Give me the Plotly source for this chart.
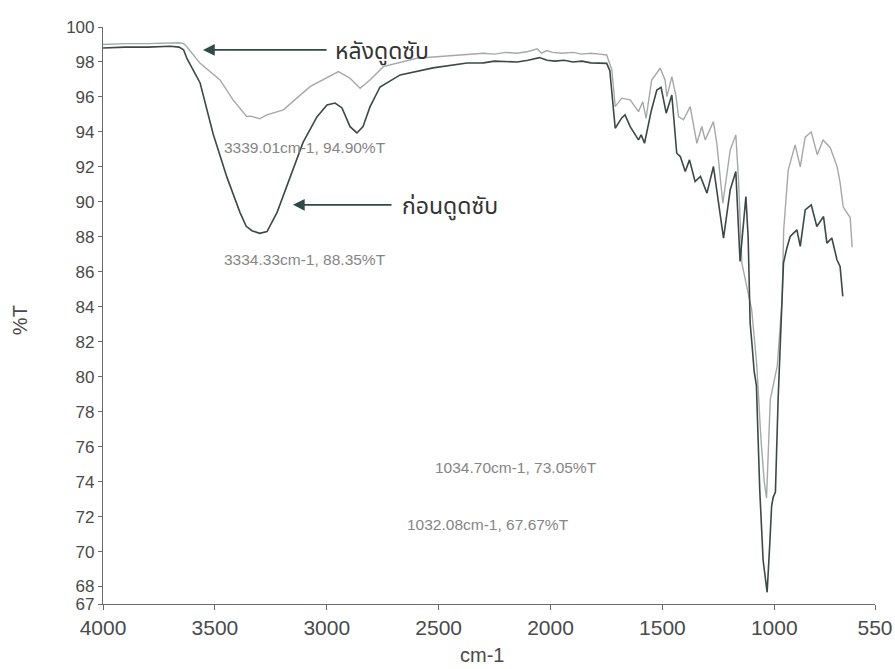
import plotly.graph_objects as go

# FTIR spectrum before adsorption (ก่อนดูดซับ)
wn_before = [4000, 3900, 3800, 3700, 3660, 3640, 3625, 3566, 3508, 3446, 3388, 3360, 3334.33,
             3300, 3267, 3222, 3164, 3106, 3044, 2999, 2963, 2932, 2896, 2865, 2838, 2807,
             2762, 2672, 2525, 2450, 2373, 2300, 2250, 2149, 2100, 2050, 2015, 1980, 1940,
             1900, 1860, 1820, 1780, 1749, 1735, 1726, 1711, 1682, 1667, 1644, 1607, 1595,
             1588, 1580, 1550, 1525, 1506, 1483, 1458, 1436, 1420, 1398, 1379, 1354, 1330,
             1301, 1272, 1250, 1227, 1197, 1172, 1153, 1127, 1117, 1108, 1100, 1090, 1080,
             1065, 1050, 1032.08, 1020, 1012, 1005, 995, 983, 967, 959, 945, 929, 899, 884,
             862, 835, 810, 780, 765, 743, 720, 706, 694]
t_before = [98.8, 98.85, 98.85, 98.9, 98.85, 98.7, 98.2, 96.8, 93.9, 91.4, 89.4, 88.6, 88.35,
            88.2, 88.3, 89.4, 91.4, 93.4, 94.86, 95.54, 95.65, 95.37, 94.3, 93.94, 94.3, 95.43,
            96.57, 97.26, 97.66, 97.8, 97.94, 97.95, 98.05, 98.0, 98.1, 98.25, 98.1, 98.05, 98.1,
            98.0, 98.05, 97.95, 97.95, 97.92, 97.5, 96.4, 94.21, 94.8, 94.97, 94.3, 93.54, 93.83,
            93.6, 93.35, 95.2, 96.4, 96.55, 95.07, 96.11, 92.78, 92.59, 91.73, 92.4, 91.16, 91.45,
            90.5, 92.02, 90.0, 87.93, 90.69, 91.73, 86.59, 90.3, 88.02, 83.07, 81.9, 80.3, 79.5,
            73.5, 69.5, 67.67, 70.5, 72.6, 73.1, 73.4, 78.7, 84.4, 86.5, 87.3, 88.02, 88.4, 87.45,
            89.54, 89.83, 88.59, 89.16, 87.64, 87.93, 86.69, 86.3, 84.59]

# FTIR spectrum after adsorption (หลังดูดซับ)
wn_after = [4000, 3900, 3800, 3700, 3660, 3640, 3626, 3566, 3477, 3419, 3358, 3339.01, 3300,
            3268, 3194, 3075, 2948, 2896, 2851, 2807, 2747, 2598, 2450, 2300, 2250, 2200, 2150,
            2100, 2060, 2040, 2017, 1990, 1950, 1900, 1860, 1820, 1780, 1749, 1726, 1711, 1682,
            1644, 1607, 1588, 1573, 1548, 1510, 1488, 1480, 1458, 1439, 1428, 1406, 1376, 1346,
            1324, 1309, 1272, 1257, 1230, 1197, 1172, 1160, 1145, 1101, 1078, 1060, 1045, 1034.70,
            1025, 1018, 1000, 987, 965, 958, 938, 907, 884, 862, 835, 808, 782, 750, 719, 706,
            692, 661, 652]
t_after = [99.0, 99.05, 99.05, 99.1, 99.1, 99.05, 98.88, 97.92, 96.97, 95.83, 94.88, 94.9, 94.75,
           94.97, 95.26, 96.59, 97.45, 97.07, 96.5, 96.97, 97.73, 98.21, 98.35, 98.5, 98.45, 98.55,
           98.5, 98.6, 98.75, 98.5, 98.65, 98.55, 98.5, 98.55, 98.45, 98.5, 98.45, 98.4, 97.54,
           95.45, 95.93, 95.83, 95.16, 95.73, 94.78, 96.97, 97.64, 96.97, 96.02, 97.16, 96.02,
           94.88, 94.69, 95.45, 93.35, 94.31, 93.54, 94.59, 93.35, 89.92, 92.97, 93.83, 91.26,
           86.5, 83.83, 80.6, 76.5, 74.0, 73.05, 76.0, 78.7, 79.8, 80.6, 84.4, 88.4, 91.8, 93.26,
           92.0, 93.7, 94.0, 92.7, 93.54, 93.1, 92.0, 91.1, 89.7, 89.1, 87.4]

x_ticks = [4000, 3500, 3000, 2500, 2000, 1500, 1000, 550]
y_ticks = [67, 68, 70, 72, 74, 76, 78, 80, 82, 84, 86, 88, 90, 92, 94, 96, 98, 100]

DARK = "#3b4947"
LIGHT = "#a4a9a7"
ARROW = "#2e4b46"
NOTE = "#858585"
SANS = "Liberation Sans, Arial, sans-serif"
THAI_FONT = dict(family="Noto Sans, Noto Sans Thai, Loma, sans-serif", size=23, color="#333333")
NOTE_FONT = dict(family=SANS, size=15.5, color=NOTE)

fig = go.Figure()
fig.add_trace(go.Scatter(x=wn_after, y=t_after, mode="lines",
                         line=dict(color=LIGHT, width=1.4), name="หลังดูดซับ"))
fig.add_trace(go.Scatter(x=wn_before, y=t_before, mode="lines",
                         line=dict(color=DARK, width=1.6), name="ก่อนดูดซับ"))

# peak labels (left edge of each text at the given wavenumber)
notes = [
    (3468, 93.1, "3339.01cm-1, 94.90%T"),
    (3468, 86.7, "3334.33cm-1, 88.35%T"),
    (2525, 74.8, "1034.70cm-1, 73.05%T"),
    (2650, 71.55, "1032.08cm-1, 67.67%T"),
]
for nx, ny, txt in notes:
    fig.add_annotation(x=nx, y=ny, text=txt, showarrow=False, font=NOTE_FONT,
                       xanchor="left", yanchor="middle")

# series arrows with their names
arrows = [
    (3553, 2994, 98.69, 2972, "หลังดูดซับ"),
    (3151, 2704, 89.83, 2672, "ก่อนดูดซับ"),
]
for head_x, tail_x, ay, tx, label in arrows:
    fig.add_annotation(x=head_x, y=ay, ax=tail_x, ay=ay, xref="x", yref="y",
                       axref="x", ayref="y", text="", showarrow=True,
                       arrowhead=2, arrowsize=1.3, arrowwidth=1.8, arrowcolor=ARROW)
    fig.add_annotation(x=tx, y=ay, text=label, showarrow=False, font=THAI_FONT,
                       xanchor="left", yanchor="middle")

# axis titles
fig.add_annotation(x=-0.1075, y=0.492, xref="paper", yref="paper", text="%T",
                   showarrow=False, textangle=-90, xanchor="center", yanchor="middle",
                   font=dict(family=SANS, size=20, color="#4a4a4a"))
fig.add_annotation(x=2306, y=-0.089, xref="x", yref="paper", text="cm-1", showarrow=False,
                   xanchor="center", yanchor="middle",
                   font=dict(family=SANS, size=20, color="#4a4a4a"))

fig.update_layout(
    width=895, height=669,
    margin=dict(l=103, r=20, t=27, b=65),
    paper_bgcolor="white", plot_bgcolor="white",
    showlegend=False,
    xaxis=dict(range=[4000, 550], tickvals=x_ticks, ticktext=[str(v) for v in x_ticks],
               showgrid=False, zeroline=False, showline=True, linecolor="#6a6a6a",
               linewidth=1.2, ticks="outside", ticklen=5, tickcolor="#6a6a6a",
               tickfont=dict(family=SANS, size=21, color="#4a4a4a"), automargin=False),
    yaxis=dict(range=[67, 100], tickvals=y_ticks, ticktext=[str(v) for v in y_ticks],
               showgrid=False, zeroline=False, showline=True, linecolor="#6a6a6a",
               linewidth=1.2, ticks="outside", ticklen=4, tickcolor="#6a6a6a",
               tickfont=dict(family=SANS, size=17, color="#4a4a4a"), automargin=False),
)

fig.write_html("out.html")
